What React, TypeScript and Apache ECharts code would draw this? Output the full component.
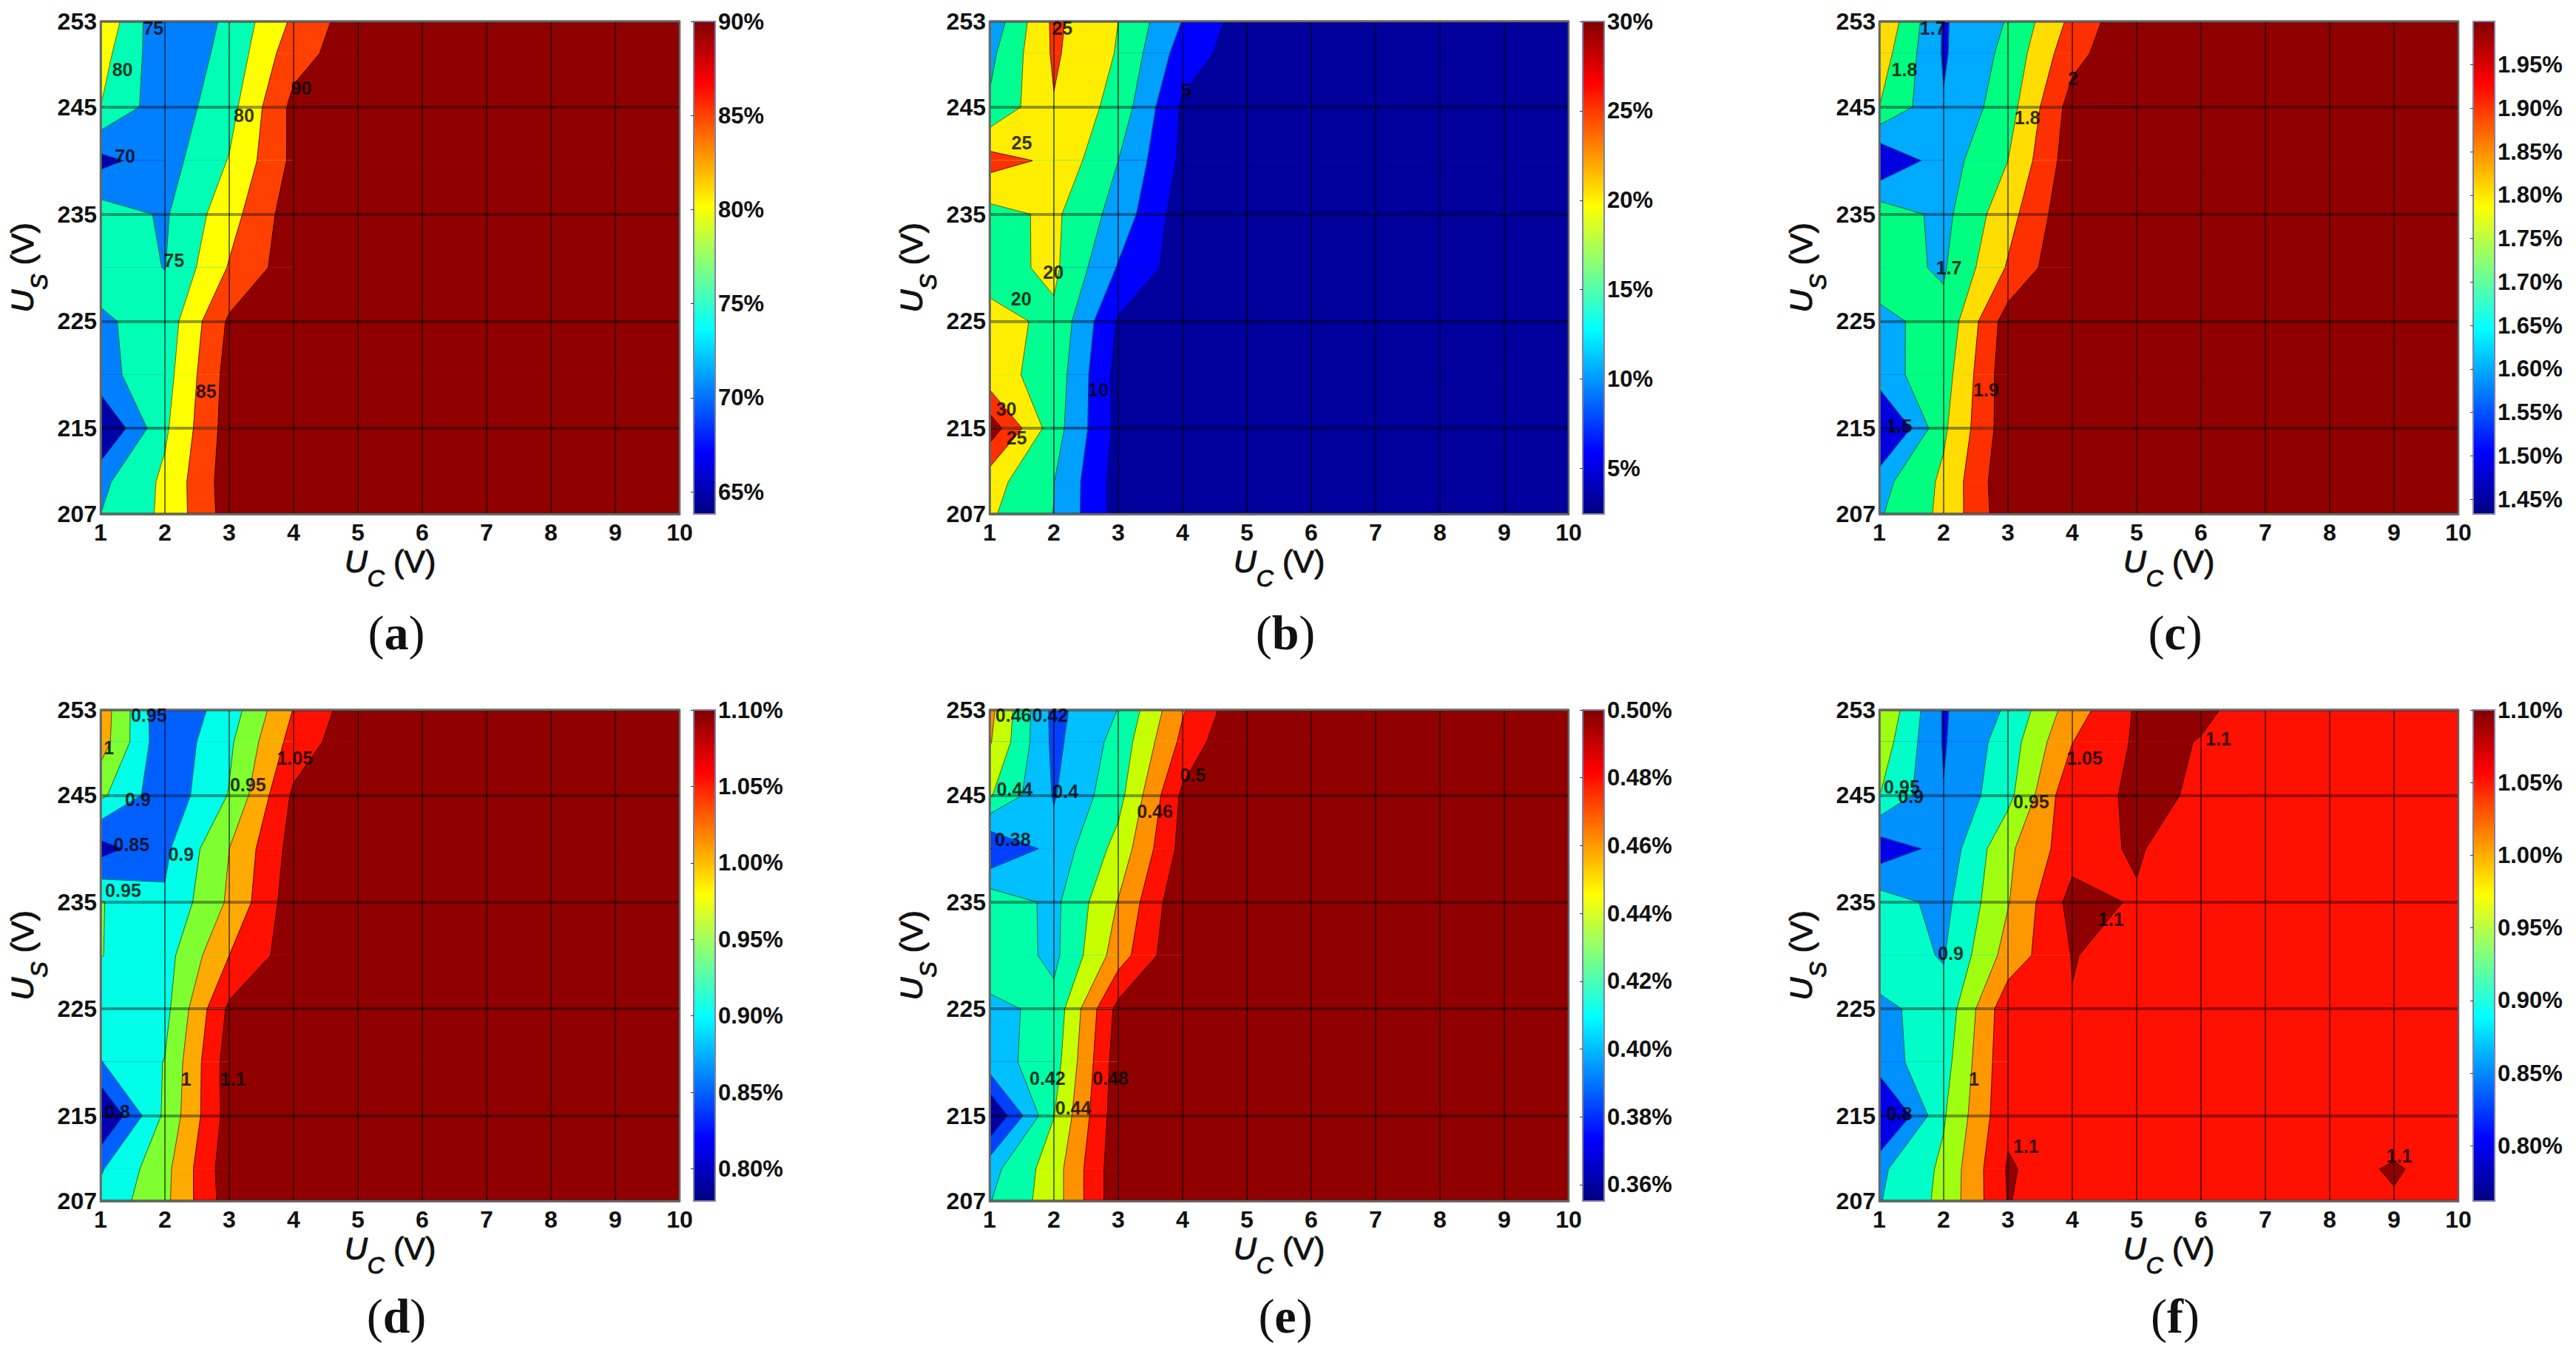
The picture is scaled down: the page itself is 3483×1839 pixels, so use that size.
import React, { useEffect, useRef } from "react";
import * as echarts from "echarts";

const ucValues = [1, 2, 3, 4, 5, 6, 7, 8, 9, 10];
const usGrid = [253, 250, 245, 240, 235, 230, 225, 220, 215, 210, 207];
const usTicks = [207, 215, 225, 235, 245, 253];

const gridA = [
  [84.2, 70.3, 76, 85.9, 93, 94.5, 95, 95.3, 95.5, 95.6],
  [81.9, 71.3, 76.5, 88.1, 92.8, 94.5, 95, 95.3, 95.5, 95.6],
  [80, 71.7, 78.2, 91.4, 94, 94.5, 95, 95.3, 95.5, 95.6],
  [68.5, 72.8, 80.3, 91.2, 94, 94.5, 95, 95.3, 95.5, 95.6],
  [77.5, 74.4, 83, 92.8, 95, 95, 95, 95.3, 95.5, 95.6],
  [77, 74.9, 85.4, 93, 95, 95, 95, 95.3, 95.5, 95.6],
  [74.3, 77, 90.8, 94, 95, 95, 95, 95.3, 95.5, 95.6],
  [73.5, 78, 92, 94, 95, 95, 95, 95.3, 95.5, 95.6],
  [64, 79.2, 92.3, 94, 95, 95, 95, 95.3, 95.5, 95.6],
  [73.8, 81, 92.7, 94, 95, 95, 95, 95.3, 95.5, 95.6],
  [75, 81, 92.4, 94, 95, 95, 95, 95.3, 95.5, 95.6],
];
const gridB = [
  [11.4, 26, 20, 9.8, 2.3, 2.5, 2.5, 2.5, 2.5, 2.5],
  [13.7, 25.7, 19.6, 7.6, 2.1, 2.5, 2.5, 2.5, 2.5, 2.5],
  [15.6, 24.7, 18.1, 4.2, 2.5, 2.5, 2.5, 2.5, 2.5, 2.5],
  [27, 24, 15, 3.9, 2.5, 2.5, 2.5, 2.5, 2.5, 2.5],
  [18.25, 21, 13, 2.3, 2.5, 2.5, 2.5, 2.5, 2.5, 2.5],
  [18.2, 21, 9.6, 2.4, 2.5, 2.5, 2.5, 2.5, 2.5, 2.5],
  [21.4, 19.1, 4.5, 2.5, 2.5, 2.5, 2.5, 2.5, 2.5, 2.5],
  [21.9, 18, 3.2, 2.5, 2.5, 2.5, 2.5, 2.5, 2.5, 2.5],
  [33, 17.2, 3.5, 2.5, 2.5, 2.5, 2.5, 2.5, 2.5, 2.5],
  [22, 15.1, 2.8, 2.5, 2.5, 2.5, 2.5, 2.5, 2.5, 2.5],
  [20.7, 14.9, 2.9, 2.5, 2.5, 2.5, 2.5, 2.5, 2.5, 2.5],
];
const gridC = [
  [1.894, 1.59, 1.707, 1.926, 2.09, 2.1, 2.1, 2.1, 2.1, 2.1],
  [1.853, 1.59, 1.729, 1.967, 2.09, 2.1, 2.1, 2.1, 2.1, 2.1],
  [1.8, 1.606, 1.757, 2.043, 2.09, 2.1, 2.1, 2.1, 2.1, 2.1],
  [1.5, 1.653, 1.8, 2.06, 2.1, 2.1, 2.1, 2.1, 2.1, 2.1],
  [1.763, 1.672, 1.863, 2.08, 2.1, 2.1, 2.1, 2.1, 2.1, 2.1],
  [1.73, 1.69, 1.91, 2.1, 2.1, 2.1, 2.1, 2.1, 2.1, 2.1],
  [1.685, 1.722, 2.05, 2.1, 2.1, 2.1, 2.1, 2.1, 2.1, 2.1],
  [1.662, 1.756, 2.065, 2.1, 2.1, 2.1, 2.1, 2.1, 2.1, 2.1],
  [1.425, 1.783, 2.06, 2.1, 2.1, 2.1, 2.1, 2.1, 2.1, 2.1],
  [1.665, 1.82, 2.08, 2.1, 2.1, 2.1, 2.1, 2.1, 2.1, 2.1],
  [1.69, 1.823, 2.07, 2.1, 2.1, 2.1, 2.1, 2.1, 2.1, 2.1],
];
const gridD = [
  [1.03, 0.856, 0.924, 1.052, 1.13, 1.14, 1.14, 1.14, 1.14, 1.14],
  [1.025, 0.86, 0.941, 1.07, 1.137, 1.14, 1.14, 1.14, 1.14, 1.14],
  [0.96, 0.865, 0.953, 1.109, 1.14, 1.14, 1.14, 1.14, 1.14, 1.14],
  [0.83, 0.89, 1.0, 1.12, 1.14, 1.14, 1.14, 1.14, 1.14, 1.14],
  [0.953, 0.906, 1.008, 1.13, 1.14, 1.14, 1.14, 1.14, 1.14, 1.14],
  [0.951, 0.93, 1.05, 1.128, 1.14, 1.14, 1.14, 1.14, 1.14, 1.14],
  [0.93, 0.935, 1.11, 1.14, 1.14, 1.14, 1.14, 1.14, 1.14, 1.14],
  [0.898, 0.952, 1.125, 1.14, 1.14, 1.14, 1.14, 1.14, 1.14, 1.14],
  [0.79, 0.96, 1.122, 1.14, 1.14, 1.14, 1.14, 1.14, 1.14, 1.14],
  [0.895, 0.985, 1.132, 1.14, 1.14, 1.14, 1.14, 1.14, 1.14, 1.14],
  [0.915, 0.988, 1.127, 1.14, 1.14, 1.14, 1.14, 1.14, 1.14, 1.14],
];
const gridE = [
  [0.466, 0.394, 0.4205, 0.478, 0.518, 0.53, 0.53, 0.53, 0.53, 0.53],
  [0.462, 0.395, 0.427, 0.485, 0.525, 0.53, 0.53, 0.53, 0.53, 0.53],
  [0.442, 0.3985, 0.433, 0.504, 0.53, 0.53, 0.53, 0.53, 0.53, 0.53],
  [0.379, 0.4066, 0.447, 0.507, 0.53, 0.53, 0.53, 0.53, 0.53, 0.53],
  [0.434, 0.415, 0.461, 0.517, 0.53, 0.53, 0.53, 0.53, 0.53, 0.53],
  [0.435, 0.415, 0.47, 0.52, 0.53, 0.53, 0.53, 0.53, 0.53, 0.53],
  [0.414, 0.4265, 0.5065, 0.53, 0.53, 0.53, 0.53, 0.53, 0.53, 0.53],
  [0.4113, 0.431, 0.511, 0.53, 0.53, 0.53, 0.53, 0.53, 0.53, 0.53],
  [0.357, 0.4395, 0.5125, 0.53, 0.53, 0.53, 0.53, 0.53, 0.53, 0.53],
  [0.413, 0.4505, 0.514, 0.53, 0.53, 0.53, 0.53, 0.53, 0.53, 0.53],
  [0.419, 0.4505, 0.514, 0.53, 0.53, 0.53, 0.53, 0.53, 0.53, 0.53],
];
const gridF = [
  [1.0, 0.845, 0.907, 1.026, 1.106, 1.104, 1.09, 1.08, 1.085, 1.08],
  [0.98, 0.846, 0.924, 1.049, 1.107, 1.099, 1.08, 1.08, 1.08, 1.08],
  [0.951, 0.852, 0.935, 1.09, 1.104, 1.098, 1.08, 1.08, 1.08, 1.08],
  [0.82, 0.866, 0.99, 1.08, 1.106, 1.063, 1.08, 1.08, 1.08, 1.08],
  [0.924, 0.885, 0.997, 1.118, 1.095, 1.08, 1.08, 1.08, 1.08, 1.08],
  [0.92, 0.897, 1.02, 1.102, 1.082, 1.08, 1.08, 1.08, 1.08, 1.08],
  [0.892, 0.915, 1.085, 1.098, 1.08, 1.08, 1.08, 1.08, 1.08, 1.08],
  [0.88, 0.93, 1.088, 1.08, 1.08, 1.08, 1.08, 1.08, 1.08, 1.08],
  [0.76, 0.945, 1.09, 1.08, 1.08, 1.08, 1.08, 1.08, 1.07, 1.08],
  [0.89, 0.96, 1.105, 1.072, 1.08, 1.08, 1.08, 1.083, 1.105, 1.076],
  [0.897, 0.963, 1.102, 1.07, 1.08, 1.08, 1.08, 1.08, 1.0956, 1.08],
];

const levelsA = [70, 75, 80, 85, 90];
const levelsB = [5, 10, 15, 20, 25, 30];
const levelsC = [1.6, 1.7, 1.8, 1.9, 2.0];
const levelsD = [0.85, 0.9, 0.95, 1.0, 1.05, 1.1];
const levelsE = [0.38, 0.4, 0.42, 0.44, 0.46, 0.48, 0.5];
const levelsF = [0.85, 0.9, 0.95, 1.0, 1.05, 1.1];

const colorsA = ["#0000a8", "#0080ff", "#00ffb4", "#ffff00", "#ff4000", "#900000"];
const colorsB = ["#00009c", "#0000ff", "#00a0ff", "#00ff90", "#ffee00", "#ff3000", "#900000"];
const colorsC = ["#0000e0", "#00aaff", "#00ff80", "#ffdd00", "#ff3000", "#900000"];
const colorsD = ["#0000b0", "#0060ff", "#00ffe8", "#80ff30", "#ffaa00", "#ff1000", "#900000"];
const colorsE = ["#0000a0", "#0040ff", "#00c0ff", "#00ffa8", "#c8ff00", "#ff9000", "#ff1000", "#900000"];
const colorsF = ["#0000e8", "#0090ff", "#00ffc8", "#a0ff10", "#ff9800", "#ff1000", "#900000"];

const labelsA: [number, number, string][] = [[1.82, 252.4, "75"], [1.34, 248.5, "80"], [1.38, 240.4, "70"], [2.14, 230.7, "75"], [3.23, 244.2, "80"], [4.12, 246.8, "90"], [2.64, 218.5, "85"]];
const labelsB: [number, number, string][] = [[2.13, 252.4, "25"], [1.5, 241.7, "25"], [1.99, 229.6, "20"], [1.49, 227.1, "20"], [2.69, 218.6, "10"], [1.26, 216.8, "30"], [1.42, 214.1, "25"], [4.05, 246.6, "5"]];
const labelsC: [number, number, string][] = [[1.83, 252.4, "1.7"], [1.39, 248.5, "1.8"], [4.01, 247.7, "2"], [3.3, 244, "1.8"], [2.08, 230, "1.7"], [2.66, 218.6, "1.9"], [1.31, 215.2, "1.5"]];
const labelsD: [number, number, string][] = [[1.75, 252.5, "0.95"], [1.13, 249.5, "1"], [4.02, 248.5, "1.05"], [3.29, 246, "0.95"], [1.58, 244.6, "0.9"], [1.48, 240.4, "0.85"], [2.25, 239.5, "0.9"], [1.35, 236.1, "0.95"], [2.33, 218.4, "1"], [3.06, 218.4, "1.1"], [1.26, 215.4, "0.8"]];
const labelsE: [number, number, string][] = [[1.37, 252.5, "0.46"], [1.94, 252.5, "0.42"], [4.16, 246.9, "0.5"], [1.39, 245.6, "0.44"], [2.18, 245.4, "0.4"], [3.57, 243.5, "0.46"], [1.36, 240.9, "0.38"], [1.9, 218.5, "0.42"], [2.88, 218.5, "0.48"], [2.3, 215.7, "0.44"]];
const labelsF: [number, number, string][] = [[6.27, 250.3, "1.1"], [4.19, 248.5, "1.05"], [1.35, 245.8, "0.95"], [1.49, 244.9, "0.9"], [3.36, 244.4, "0.95"], [4.6, 233.4, "1.1"], [2.11, 230.2, "0.9"], [2.47, 218.4, "1"], [1.31, 215.2, "0.8"], [3.28, 212.1, "1.1"], [9.08, 211.2, "1.1"]];

const barTicksA = [65, 70, 75, 80, 85, 90];
const barTicksB = [5, 10, 15, 20, 25, 30];
const barTicksC = [1.45, 1.5, 1.55, 1.6, 1.65, 1.7, 1.75, 1.8, 1.85, 1.9, 1.95];
const barTicksD = [0.8, 0.85, 0.9, 0.95, 1.0, 1.05, 1.1];
const barTicksE = [0.36, 0.38, 0.4, 0.42, 0.44, 0.46, 0.48, 0.5];
const barTicksF = [0.8, 0.85, 0.9, 0.95, 1.0, 1.05, 1.1];

const SANS = "Liberation Sans";
const LEFTS = [136, 1338, 2541];
const BAR_LEFTS = [938, 2140, 3344];
const TOPS = [29, 960];
const PLOT_W = 783;
const PLOT_H = [666, 664];
const BAR_W = 29;

const panels = [
  { grid: gridA, levels: levelsA, colors: colorsA, labels: labelsA, barTicks: barTicksA, barRange: [63.83, 90], dec: 0, letter: "a", col: 0, row: 0 },
  { grid: gridB, levels: levelsB, colors: colorsB, labels: labelsB, barTicks: barTicksB, barRange: [2.46, 30], dec: 0, letter: "b", col: 1, row: 0 },
  { grid: gridC, levels: levelsC, colors: colorsC, labels: labelsC, barTicks: barTicksC, barRange: [1.433, 2.0], dec: 2, letter: "c", col: 2, row: 0 },
  { grid: gridD, levels: levelsD, colors: colorsD, labels: labelsD, barTicks: barTicksD, barRange: [0.779, 1.1], dec: 2, letter: "d", col: 0, row: 1 },
  { grid: gridE, levels: levelsE, colors: colorsE, labels: labelsE, barTicks: barTicksE, barRange: [0.3552, 0.5], dec: 2, letter: "e", col: 1, row: 1 },
  { grid: gridF, levels: levelsF, colors: colorsF, labels: labelsF, barTicks: barTicksF, barRange: [0.762, 1.1], dec: 2, letter: "f", col: 2, row: 1 },
];

type P = { x: number; y: number; v: number };

function cellCorners(grid: number[][], i: number, j: number): P[] {
  // j indexes usGrid (top-down); the cell lies between rows j and j+1
  return [
    { x: ucValues[i], y: usGrid[j], v: grid[j][i] },
    { x: ucValues[i + 1], y: usGrid[j], v: grid[j][i + 1] },
    { x: ucValues[i + 1], y: usGrid[j + 1], v: grid[j + 1][i + 1] },
    { x: ucValues[i], y: usGrid[j + 1], v: grid[j + 1][i] },
  ];
}

function cross(a: P, b: P, L: number): P {
  const t = (L - a.v) / (b.v - a.v);
  return { x: a.x + t * (b.x - a.x), y: a.y + t * (b.y - a.y), v: L };
}

function isSaddle(c: P[], L: number) {
  const u = c.map((q) => q.v >= L);
  return u[0] === u[2] && u[1] === u[3] && u[0] !== u[1];
}

function centre(c: P[]) {
  return (c[0].v + c[1].v + c[2].v + c[3].v) / 4;
}

function clipAbove(poly: P[], L: number): P[][] {
  if (isSaddle(poly, L) && centre(poly) < L) {
    // the two high corners stay apart
    const out: P[][] = [];
    for (let k = 0; k < 4; k++) {
      if (poly[k].v >= L) {
        const prev = poly[(k + 3) % 4];
        const next = poly[(k + 1) % 4];
        out.push([poly[k], cross(poly[k], next, L), cross(prev, poly[k], L)]);
      }
    }
    return out;
  }
  const out: P[] = [];
  for (let k = 0; k < poly.length; k++) {
    const a = poly[k];
    const b = poly[(k + 1) % poly.length];
    if (a.v >= L) out.push(a);
    if (a.v >= L !== b.v >= L) out.push(cross(a, b, L));
  }
  return [out];
}

function segments(poly: P[], L: number): [P, P][] {
  const pts: P[] = [];
  for (let k = 0; k < poly.length; k++) {
    const a = poly[k];
    const b = poly[(k + 1) % poly.length];
    if (a.v >= L !== b.v >= L) pts.push(cross(a, b, L));
  }
  if (pts.length === 2) return [[pts[0], pts[1]]];
  if (pts.length === 4) {
    const zeroHigh = poly[0].v >= L;
    const high = centre(poly) >= L;
    // pts[k] lies on the edge from corner k to corner k+1
    if (zeroHigh !== high) return [[pts[3], pts[0]], [pts[1], pts[2]]];
    return [[pts[0], pts[1]], [pts[2], pts[3]]];
  }
  return [];
}

function nameRich() {
  const heavy = { textBorderColor: "#111", textBorderWidth: 1 };
  return {
    u: { fontFamily: SANS, fontStyle: "italic", fontSize: 43, color: "#111", ...heavy },
    s: { fontFamily: SANS, fontStyle: "italic", fontSize: 32, color: "#111", padding: [46, 0, 0, 0], ...heavy },
    v: { fontFamily: SANS, fontSize: 43, color: "#111", ...heavy },
  };
}

function buildOption() {
  const grids: any[] = [];
  const xAxes: any[] = [];
  const yAxes: any[] = [];
  const series: any[] = [];
  const graphics: any[] = [];
  const axisColor = "#666";

  panels.forEach((p, n) => {
    const left = LEFTS[p.col];
    const top = TOPS[p.row];
    const h = PLOT_H[p.row];
    const gi = n * 2;
    grids.push({ left, top, width: PLOT_W, height: h, containLabel: false, show: false });
    grids.push({ left: BAR_LEFTS[p.col], top, width: BAR_W, height: h, containLabel: false, show: false });

    xAxes.push({
      type: "value", gridIndex: gi, min: 1, max: 10, interval: 1, z: 10,
      name: "{u|U}{s|C}{v| (V)}", nameLocation: "middle", nameGap: 18,
      nameTextStyle: { rich: nameRich() },
      axisLine: { show: true, onZero: false, lineStyle: { color: axisColor, width: 2.5 } },
      axisTick: { show: false },
      axisLabel: { fontFamily: SANS, fontWeight: "bold", fontSize: 32, color: "#111", margin: 9, hideOverlap: false, showMinLabel: true, showMaxLabel: true },
      splitLine: { show: true, lineStyle: { color: "rgba(0,0,0,0.7)", width: 1.5 } },
    });
    yAxes.push({
      type: "value", gridIndex: gi, min: 207, max: 253, z: 10,
      name: "{u|U}{s|S}{v| (V)}", nameLocation: "middle", nameRotate: 90, nameGap: 67,
      nameTextStyle: { rich: nameRich() },
      axisLine: { show: true, onZero: false, lineStyle: { color: axisColor, width: 2.5 } },
      axisTick: { show: false, customValues: usTicks },
      axisLabel: { fontFamily: SANS, fontWeight: "bold", fontSize: 32, color: "#111", margin: 5, customValues: usTicks, hideOverlap: false },
      splitLine: { show: true, lineStyle: { color: "rgba(0,0,0,0.38)", width: 4 } },
    });
    xAxes.push({ type: "value", gridIndex: gi + 1, min: 0, max: 1, show: false });
    yAxes.push({
      type: "value", gridIndex: gi + 1, position: "right", min: p.barRange[0], max: p.barRange[1], z: 10,
      axisLine: { show: false },
      axisTick: { show: true, inside: true, length: 4, customValues: p.barTicks, lineStyle: { color: "#333", width: 1 } },
      axisLabel: {
        fontFamily: SANS, fontWeight: "bold", fontSize: 31, color: "#111", margin: 4,
        customValues: p.barTicks, hideOverlap: false,
        formatter: (v: number) => v.toFixed(p.dec) + "%",
      },
      splitLine: { show: false },
    });

    const cells: number[][] = [];
    for (let j = 0; j + 1 < usGrid.length; j++) {
      for (let i = 0; i + 1 < ucValues.length; i++) cells.push([ucValues[i], usGrid[j], i, j]);
    }

    // filled bands: each cell starts from the highest band that covers all of it
    series.push({
      type: "custom", xAxisIndex: gi, yAxisIndex: gi, z: 2, silent: true, clip: true,
      data: cells, encode: { x: 0, y: 1 },
      renderItem: (_: any, api: any) => {
        const corners = cellCorners(p.grid, api.value(2), api.value(3));
        const children: any[] = [];
        const lowest = Math.min(...corners.map((q) => q.v));
        let base = 0;
        p.levels.forEach((L, k) => {
          if (lowest >= L) base = k + 1;
        });
        const fill = (poly: P[], color: string) => {
          if (poly.length < 3) return;
          children.push({
            type: "polygon",
            shape: { points: poly.map((q) => api.coord([q.x, q.y])) },
            style: { fill: color, stroke: color, lineWidth: 1 },
          });
        };
        fill(corners, p.colors[base]);
        p.levels.forEach((L, k) => {
          if (k >= base) clipAbove(corners, L).forEach((poly) => fill(poly, p.colors[k + 1]));
        });
        return { type: "group", children };
      },
    });
    // contour lines
    series.push({
      type: "custom", xAxisIndex: gi, yAxisIndex: gi, z: 3, silent: true, clip: true,
      data: cells, encode: { x: 0, y: 1 },
      renderItem: (_: any, api: any) => {
        const corners = cellCorners(p.grid, api.value(2), api.value(3));
        const children: any[] = [];
        p.levels.forEach((L) => {
          segments(corners, L).forEach(([a, b]) => {
            const [x1, y1] = api.coord([a.x, a.y]);
            const [x2, y2] = api.coord([b.x, b.y]);
            children.push({
              type: "line",
              shape: { x1, y1, x2, y2 },
              style: { stroke: "rgba(0,0,0,0.6)", lineWidth: 1 },
            });
          });
        });
        return { type: "group", children };
      },
    });
    // plot frame
    series.push({
      type: "custom", xAxisIndex: gi, yAxisIndex: gi, z: 12, silent: true, clip: false,
      data: [[1, 253, 10, 207]], encode: { x: [0, 2], y: [1, 3] },
      renderItem: (_: any, api: any) => {
        const a = api.coord([api.value(0), api.value(1)]);
        const b = api.coord([api.value(2), api.value(3)]);
        return {
          type: "rect",
          shape: { x: a[0], y: a[1], width: b[0] - a[0], height: b[1] - a[1] },
          style: { fill: "none", stroke: axisColor, lineWidth: 2.5 },
        };
      },
    });
    // contour labels
    series.push({
      type: "scatter", xAxisIndex: gi, yAxisIndex: gi, z: 20, silent: true,
      symbolSize: 0, data: p.labels,
      label: {
        show: true, position: "inside",
        fontFamily: SANS, fontWeight: "bold", fontSize: 25, color: "#000",
        formatter: (q: any) => q.data[2],
      },
    });
    // colour bar
    series.push({
      type: "custom", xAxisIndex: gi + 1, yAxisIndex: gi + 1, z: 2, silent: true, clip: false,
      data: [[0, p.barRange[1], 1, p.barRange[0]]], encode: { x: [0, 2], y: [1, 3] },
      renderItem: (_: any, api: any) => {
        const a = api.coord([api.value(0), api.value(1)]);
        const b = api.coord([api.value(2), api.value(3)]);
        return {
          type: "rect",
          shape: { x: a[0], y: a[1], width: b[0] - a[0], height: b[1] - a[1] },
          style: {
            fill: new echarts.graphic.LinearGradient(0, 0, 0, 1, [
              { offset: 0, color: "#800000" },
              { offset: 0.125, color: "#ff0000" },
              { offset: 0.375, color: "#ffff00" },
              { offset: 0.625, color: "#00ffff" },
              { offset: 0.875, color: "#0000ff" },
              { offset: 1, color: "#000080" },
            ]),
            stroke: "#8080a8",
            lineWidth: 2,
          },
        };
      },
    });

    graphics.push({
      type: "text",
      x: left + 400,
      y: p.row === 0 ? 855 : 1779,
      style: {
        text: "({b|" + p.letter + "})",
        fontFamily: "Liberation Serif",
        fontSize: 66,
        fill: "#111",
        align: "center",
        verticalAlign: "middle",
        rich: { b: { fontFamily: "Liberation Serif", fontSize: 66, fontWeight: "bold", fill: "#111", color: "#111" } },
      },
    });
  });

  return { animation: false, backgroundColor: "#fff", grid: grids, xAxis: xAxes, yAxis: yAxes, series, graphic: graphics };
}

export default function App() {
  const ref = useRef<HTMLDivElement>(null);
  useEffect(() => {
    const chart = echarts.init(ref.current!, undefined, { renderer: "svg" });
    chart.setOption(buildOption());
    return () => chart.dispose();
  }, []);
  return <div ref={ref} style={{ position: "fixed", left: 0, top: 0, width: 3483, height: 1839 }} />;
}
